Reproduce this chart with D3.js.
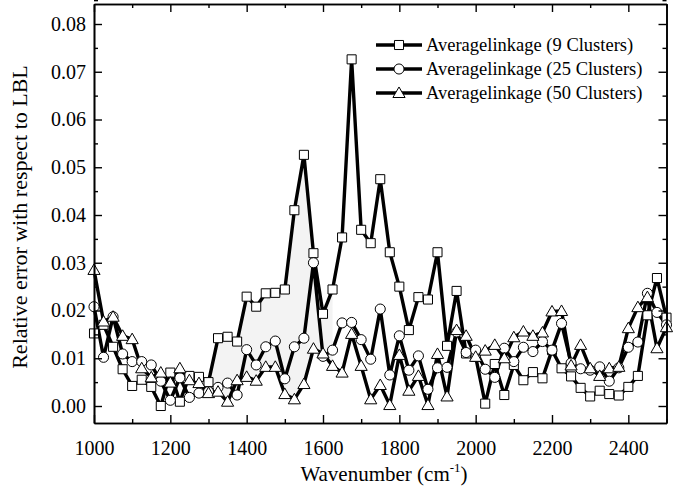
<!DOCTYPE html>
<html><head><meta charset="utf-8">
<script src="https://cdn.jsdelivr.net/npm/d3@7"></script>
<style>
body{margin:0;background:#fff;}
svg{display:block;font-family:"Liberation Serif","Times New Roman","DejaVu Serif",serif;}
</style></head>
<body><svg id="c" width="683" height="492"></svg>
<script>
const wavenumbers = d3.range(1000, 2501, 25);
const avg9 = [0.0152,0.0170,0.0124,0.0077,0.0042,0.0055,0.0040,0.0000,0.0070,0.0009,
  0.0063,0.0061,0.0050,0.0142,0.0145,0.0135,0.0229,0.0208,0.0236,0.0237,
  0.0244,0.0410,0.0526,0.0320,0.0193,0.0244,0.0353,0.0726,0.0369,0.0341,
  0.0475,0.0322,0.0250,0.0159,0.0228,0.0223,0.0322,0.0126,0.0241,0.0110,
  0.0103,0.0005,0.0088,0.0023,0.0086,0.0054,0.0071,0.0058,0.0117,0.0079,
  0.0062,0.0038,0.0020,0.0032,0.0025,0.0022,0.0040,0.0063,0.0190,0.0268,0.0185];
const avg25 = [0.0208,0.0102,0.0187,0.0109,0.0093,0.0093,0.0086,0.0052,0.0012,0.0059,
  0.0018,0.0027,0.0030,0.0039,0.0048,0.0023,0.0118,0.0086,0.0124,0.0136,
  0.0057,0.0124,0.0142,0.0300,0.0104,0.0117,0.0174,0.0175,0.0139,0.0098,
  0.0203,0.0065,0.0147,0.0075,0.0105,0.0035,0.0080,0.0081,0.0155,0.0112,
  0.0117,0.0077,0.0060,0.0121,0.0093,0.0123,0.0114,0.0135,0.0117,0.0173,
  0.0090,0.0078,0.0075,0.0082,0.0052,0.0080,0.0123,0.0134,0.0236,0.0196,0.0170];
const avg50 = [0.0285,0.0177,0.0187,0.0147,0.0140,0.0079,0.0060,0.0070,0.0049,0.0079,
  0.0054,0.0048,0.0027,0.0030,0.0009,0.0054,0.0061,0.0053,0.0082,0.0082,
  0.0025,0.0014,0.0046,0.0120,0.0110,0.0084,0.0070,0.0151,0.0084,0.0014,
  0.0044,0.0002,0.0107,0.0032,0.0063,0.0002,0.0109,0.0020,0.0159,0.0147,
  0.0103,0.0116,0.0128,0.0100,0.0144,0.0156,0.0147,0.0154,0.0198,0.0199,
  0.0085,0.0128,0.0079,0.0063,0.0079,0.0082,0.0163,0.0207,0.0228,0.0121,0.0165];
const seriesNames = ["Averagelinkage (9 Clusters)","Averagelinkage (25 Clusters)","Averagelinkage (50 Clusters)"];
const seriesSymbols = ["square","circle","triangle"];
const xTicks = [1000,1200,1400,1600,1800,2000,2200,2400];
const yTicks = [0.00,0.01,0.02,0.03,0.04,0.05,0.06,0.07,0.08];

const svg = d3.select("#c");
const L = 94, R = 666.5, T = 4, B = 423;
const x = d3.scaleLinear().domain([1000, 2500]).range([L, R]);
const y = d3.scaleLinear().domain([-0.00356, 0.08419]).range([B, T]);

const series = [avg9, avg25, avg50].map((vals, k) => ({
  name: seriesNames[k], sym: seriesSymbols[k],
  pts: wavenumbers.map((w, i) => ({x: w, y: vals[i]}))
}));

// shaded region between the highest and lowest curve around the first peak
const fillRange = wavenumbers.map((w, i) => ({x: w, hi: Math.max(avg9[i], avg25[i], avg50[i]), lo: Math.min(avg9[i], avg25[i], avg50[i])}))
  .filter(d => d.x >= 1300 && d.x <= 1625);
svg.append("path").datum(fillRange)
  .attr("fill", "#f3f3f3")
  .attr("d", d3.area().x(d => x(d.x)).y0(d => y(d.lo)).y1(d => y(d.hi)));

const line = d3.line().x(d => x(d.x)).y(d => y(d.y));
const symType = {square: d3.symbolSquare, circle: d3.symbolCircle, triangle: d3.symbolTriangle};
const symSize = {square: 82, circle: 80, triangle: 64};

series.forEach(s => {
  svg.append("path").datum(s.pts).attr("fill", "none").attr("stroke", "#000")
    .attr("stroke-width", 3.4).attr("stroke-linejoin", "round").attr("d", line);
});
series.forEach(s => {
  svg.append("g").selectAll("path").data(s.pts).join("path")
    .attr("transform", d => `translate(${x(d.x)},${y(d.y) + (s.sym === "triangle" ? 1 : 0)})`)
    .attr("d", d3.symbol().type(symType[s.sym]).size(symSize[s.sym]))
    .attr("fill", "#fff").attr("stroke", "#000").attr("stroke-width", 1);
});

// axes
const xMinor = d3.range(1000, 2501, 100).filter(v => !xTicks.includes(v));
const yMinor = d3.range(0, 0.0851, 0.005).filter((v, i) => i % 2 === 1);
function styleAxis(g) {
  g.select(".domain").attr("stroke-width", 1.6);
  g.selectAll(".tick line").attr("stroke-width", 1.4);
  g.selectAll("text").attr("font-size", 20).attr("font-family", "Liberation Serif").attr("fill", "#000");
}
svg.append("g").attr("transform", `translate(0,${B})`)
  .call(d3.axisBottom(x).tickValues(xTicks).tickFormat(d3.format("d")).tickSize(-8).tickPadding(18).tickSizeOuter(0)).call(styleAxis);
svg.append("g").attr("transform", `translate(0,${B})`)
  .call(d3.axisBottom(x).tickValues(xMinor).tickFormat("").tickSize(-4).tickSizeOuter(0)).call(styleAxis);
svg.append("g").attr("transform", `translate(0,${T})`)
  .call(d3.axisTop(x).tickValues(xTicks).tickFormat("").tickSize(-8).tickSizeOuter(0)).call(styleAxis);
svg.append("g").attr("transform", `translate(0,${T})`)
  .call(d3.axisTop(x).tickValues(xMinor).tickFormat("").tickSize(-4).tickSizeOuter(0)).call(styleAxis);
svg.append("g").attr("transform", `translate(${L},0)`)
  .call(d3.axisLeft(y).tickValues(yTicks).tickFormat(d3.format(".2f")).tickSize(-8).tickPadding(8).tickSizeOuter(0)).call(styleAxis);
svg.append("g").attr("transform", `translate(${L},0)`)
  .call(d3.axisLeft(y).tickValues(yMinor).tickFormat("").tickSize(-4).tickSizeOuter(0)).call(styleAxis);
svg.append("g").attr("transform", `translate(${R},0)`)
  .call(d3.axisRight(y).tickValues(yTicks).tickFormat("").tickSize(-8).tickSizeOuter(0)).call(styleAxis);
svg.append("g").attr("transform", `translate(${R},0)`)
  .call(d3.axisRight(y).tickValues(yMinor).tickFormat("").tickSize(-4).tickSizeOuter(0)).call(styleAxis);

// axis titles
const xt = svg.append("text").attr("x", 384).attr("y", 481).attr("text-anchor", "middle")
  .attr("font-size", 21);
xt.append("tspan").text("Wavenumber (cm");
xt.append("tspan").attr("font-size", 13).attr("dy", -9).text("-1");
xt.append("tspan").attr("dy", 9).text(")");
svg.append("text").attr("transform", `translate(27,217) rotate(-90)`)
  .attr("text-anchor", "middle").attr("font-size", 22).text("Relative error with respect to LBL");

// legend
const lg = svg.append("g").attr("transform", "translate(376,45)");
series.forEach((s, k) => {
  const g = lg.append("g").attr("transform", `translate(0,${k * 24})`);
  g.append("line").attr("x1", 0).attr("x2", 46).attr("stroke", "#000").attr("stroke-width", 3.4);
  g.append("path").attr("transform", `translate(23,${s.sym === "triangle" ? 1 : 0})`)
    .attr("d", d3.symbol().type(symType[s.sym]).size(symSize[s.sym]))
    .attr("fill", "#fff").attr("stroke", "#000").attr("stroke-width", 1);
  g.append("text").attr("x", 50).attr("y", 0).attr("dy", "0.35em").attr("font-size", 18.5).text(s.name);
});
</script></body></html>
